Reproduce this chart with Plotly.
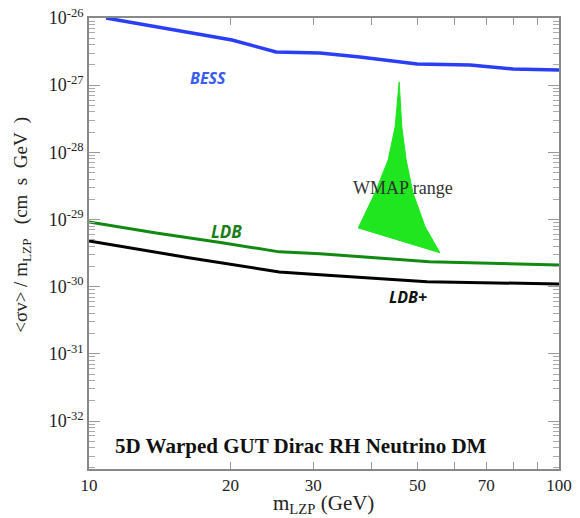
import plotly.graph_objects as go

# ---- data ----
bess_m = [10.87, 16.3, 20.15, 25.0, 31.0, 37.7, 49.9, 64.7, 79.8, 100]
bess_sv = [1.0e-26, 6.2e-27, 4.7e-27, 3.12e-27, 3.0e-27, 2.63e-27, 2.07e-27, 2.0e-27, 1.74e-27, 1.68e-27]

ldb_m = [10, 13.9, 19.2, 25.4, 31.0, 53.0, 100]
ldb_sv = [9.2e-30, 6.3e-30, 4.5e-30, 3.3e-30, 3.1e-30, 2.35e-30, 2.1e-30]

ldbp_m = [10, 16.3, 25.4, 31.0, 52.4, 100]
ldbp_sv = [4.8e-30, 2.7e-30, 1.66e-30, 1.5e-30, 1.18e-30, 1.1e-30]

wmap_m = [45.7, 46.3, 47.3, 48.9, 51.9, 55.8, 37.4, 40.6, 43.3, 44.8, 45.7]
wmap_sv = [1.12e-27, 2.39e-28, 7.7e-29, 2.49e-29, 7.8e-30, 3.2e-30, 7.5e-30, 2.49e-29, 7.7e-29, 2.39e-28, 1.12e-27]

x_tickvals = [10, 20, 30, 40, 50, 60, 70, 80, 90, 100]
x_ticktext = ["10", "20", "30", "", "50", "", "70", "", "", "100"]
y_exps = [-33, -32, -31, -30, -29, -28, -27, -26]
y_mults = [1, 2, 3, 4, 5, 6, 7, 8, 9]

serif = "Liberation Serif, Times New Roman, serif"
sans = "Open Sans, Liberation Sans, sans-serif"

y_all = []
y_lbl = []
for e in y_exps:
    for k in y_mults:
        v = k * 10.0 ** e
        if v <= 1.0001e-26:
            y_all.append(v)
            y_lbl.append("10<sup>%d</sup>" % e if (k == 1 and e >= -32) else "")
y_major = [10.0 ** e for e in y_exps if e >= -32]

fig = go.Figure()
fig.add_trace(go.Scatter(x=wmap_m, y=wmap_sv, mode="lines", fill="toself",
                         fillcolor="#1fe61f", line=dict(color="#1fe61f", width=1),
                         hoverinfo="skip", showlegend=False))
fig.add_trace(go.Scatter(x=bess_m, y=bess_sv, mode="lines",
                         line=dict(color="#2a3ff5", width=3.5), showlegend=False))
fig.add_trace(go.Scatter(x=ldb_m, y=ldb_sv, mode="lines",
                         line=dict(color="#128a12", width=3), showlegend=False))
fig.add_trace(go.Scatter(x=ldbp_m, y=ldbp_sv, mode="lines",
                         line=dict(color="#000000", width=3), showlegend=False))
# helper invisible trace to carry the long major-tick axis
fig.add_trace(go.Scatter(x=[10], y=[1e-30], mode="markers", marker=dict(opacity=0),
                         yaxis="y2", hoverinfo="skip", showlegend=False))

fig.update_layout(
    xaxis=dict(type="log", range=[1, 2], tickvals=x_tickvals, ticktext=x_ticktext,
               ticks="inside", ticklen=7, tickcolor="#999", showline=True, mirror="ticks",
               linecolor="#888", linewidth=1.5, showgrid=False, zeroline=False, automargin=False,
               tickfont=dict(family=serif, size=17, color="#222")),
    yaxis=dict(type="log", range=[-32.714, -26], tickvals=y_all, ticktext=y_lbl,
               ticks="inside", ticklen=6, tickcolor="#aaa", showline=True, mirror="ticks",
               linecolor="#888", linewidth=1.5, showgrid=False, zeroline=False, automargin=False,
               tickfont=dict(family=serif, size=18, color="#222")),
    yaxis2=dict(type="log", range=[-32.714, -26], overlaying="y", side="left", anchor="x",
                tickvals=y_major, ticktext=["" for _ in y_major],
                ticks="inside", ticklen=11, tickcolor="#999", mirror="ticks", showline=False,
                showgrid=False, zeroline=False, automargin=False, showticklabels=False),
)

ann = [
    dict(x=0.253, y=0.867, text="<b><i>BESS</i></b>", font=dict(family=sans, size=16, color="#3a5cf0")),
    dict(x=0.292, y=0.5255, text="<b><i>LDB</i></b>", font=dict(family=sans, size=17, color="#1a7f1a")),
    dict(x=0.679, y=0.381, text="<b><i>LDB+</i></b>", font=dict(family=sans, size=16, color="#111")),
    dict(x=0.668, y=0.623, text="WMAP range", font=dict(family=serif, size=18, color="#333")),
    dict(x=0.452, y=0.051, text="<b>5D Warped GUT Dirac RH Neutrino DM</b>",
         font=dict(family=serif, size=21, color="#111")),
    dict(x=0.498, y=-0.078, text="m<sub>LZP</sub> (GeV)", font=dict(family=serif, size=21, color="#222")),
    dict(x=-0.143, y=0.541, text="&lt;σv&gt; / m<sub>LZP</sub>   (cm  s  GeV  )", textangle=-90,
         font=dict(family=serif, size=19, color="#222")),
]
for a in ann:
    fig.add_annotation(xref="paper", yref="paper", showarrow=False, xanchor="center", yanchor="middle", **a)

fig.update_layout(width=580, height=518, margin=dict(l=89, r=21, t=18, b=49),
                  paper_bgcolor="white", plot_bgcolor="white")
fig.write_html("out.html", config={"displayModeBar": False},
               post_script="document.body.style.margin='0';document.body.style.overflow='hidden';")
